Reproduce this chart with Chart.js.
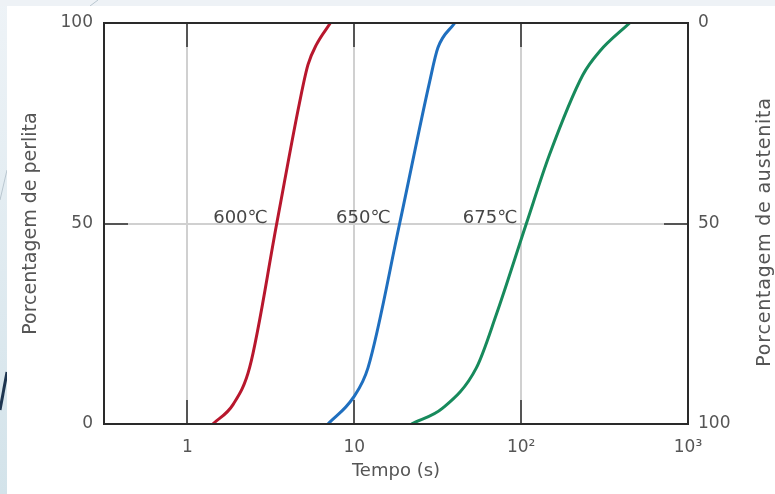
<!DOCTYPE html>
<html>
<head>
<meta charset="utf-8">
<script src="https://cdn.jsdelivr.net/npm/chart.js@4/dist/chart.umd.min.js"></script>
<style>
  html, body { margin: 0; padding: 0; background: #ffffff; }
  canvas { display: block; }
</style>
</head>
<body>
<canvas id="c" width="775" height="494"></canvas>
<script>
// ---- data ----
const temperatureLabels = ['600\u2103', '650\u2103', '675\u2103'];

const time600 = [1.42, 1.88, 2.36, 3.43, 4.69, 5.28, 5.93, 7.19];
const pct600  = [0, 4.9, 14.1, 50, 80, 89.6, 94.6, 100];

const time650 = [6.96, 9.83, 12.08, 18.7, 28.3, 31.7, 40.0];
const pct650  = [0, 6.5, 14.0, 50, 85.4, 93.8, 100];

const time675 = [22.0, 34.0, 53.9, 71.0, 107.5, 148, 234.6, 295, 447];
const pct675  = [0, 4.0, 14.0, 27.3, 50, 67.2, 87.1, 92.9, 100];

const xTickValues = [1, 10, 100, 1000];
const xTickLabels = ['1', '10', '10\u00B2', '10\u00B3'];
const yTickValues = [0, 50, 100];

const colors = ['#b8172d', '#1f6fbf', '#178a5c'];

// ---- build datasets ----
function pts(ts, ps) { return ts.map((t, i) => ({ x: t, y: ps[i] })); }
const series = [pts(time600, pct600), pts(time650, pct650), pts(time675, pct675)];

const FONT = "'DejaVu Sans', sans-serif";

const backgroundPlugin = {
  id: 'slideBg',
  beforeDraw(chart) {
    const ctx = chart.ctx;
    ctx.save();
    const g = ctx.createLinearGradient(0, 0, 0, 494);
    g.addColorStop(0, '#eef3f7');
    g.addColorStop(1, '#d3e3ea');
    ctx.fillStyle = g;
    ctx.fillRect(0, 0, 775, 494);
    ctx.fillStyle = '#eef2f6';
    ctx.fillRect(0, 0, 775, 6);
    // decorative slide lines
    ctx.strokeStyle = '#b9c6cf';
    ctx.lineWidth = 1;
    ctx.beginPath(); ctx.moveTo(98, 0); ctx.lineTo(90, 6); ctx.stroke();
    ctx.beginPath(); ctx.moveTo(7, 170); ctx.lineTo(0, 200); ctx.stroke();
    ctx.strokeStyle = '#1d3550';
    ctx.lineWidth = 3;
    ctx.beginPath(); ctx.moveTo(7, 372); ctx.lineTo(0, 410); ctx.stroke();
    ctx.fillStyle = '#ffffff';
    ctx.fillRect(7, 6, 768, 488);
    ctx.restore();
  }
};

const decorPlugin = {
  id: 'decor',
  afterDatasetsDraw(chart) {
    const ctx = chart.ctx;
    const a = chart.chartArea;
    const xs = chart.scales.x, ys = chart.scales.y;
    ctx.save();
    // inner tick marks
    ctx.strokeStyle = '#555555';
    ctx.lineWidth = 2;
    const L = 24;
    [1, 10, 100].forEach(v => {
      const px = Math.round(xs.getPixelForValue(v));
      ctx.beginPath(); ctx.moveTo(px, a.top); ctx.lineTo(px, a.top + L); ctx.stroke();
      ctx.beginPath(); ctx.moveTo(px, a.bottom); ctx.lineTo(px, a.bottom - L); ctx.stroke();
    });
    const py = Math.round(ys.getPixelForValue(50));
    ctx.beginPath(); ctx.moveTo(a.left, py); ctx.lineTo(a.left + L, py); ctx.stroke();
    ctx.beginPath(); ctx.moveTo(a.right, py); ctx.lineTo(a.right - L, py); ctx.stroke();
    // frame
    ctx.strokeStyle = '#2a2a2a';
    ctx.lineWidth = 2;
    ctx.strokeRect(a.left, a.top, a.right - a.left, a.bottom - a.top);
    // temperature labels anchored to each curve's 50 % point
    ctx.fillStyle = '#474747';
    ctx.font = '18px ' + FONT;
    ctx.textAlign = 'right';
    ctx.textBaseline = 'alphabetic';
    series.forEach((s, i) => {
      const p = s.find(q => q.y === 50);
      ctx.fillText(temperatureLabels[i], xs.getPixelForValue(p.x) - 9, ys.getPixelForValue(50) - 1);
    });
    // right axis title (reads bottom-to-top)
    ctx.fillStyle = '#555555';
    ctx.font = '19px ' + FONT;
    ctx.letterSpacing = '0.8px';
    ctx.textAlign = 'center';
    ctx.textBaseline = 'middle';
    ctx.translate(765, 232);
    ctx.rotate(-Math.PI / 2);
    ctx.fillText('Porcentagem de austenita', 0, 0);
    ctx.restore();
  }
};

new Chart(document.getElementById('c'), {
  type: 'line',
  data: {
    datasets: series.map((s, i) => ({
      label: temperatureLabels[i],
      data: s,
      borderColor: colors[i],
      borderWidth: 3,
      pointRadius: 0,
      fill: false,
      cubicInterpolationMode: 'monotone'
    }))
  },
  options: {
    responsive: false,
    animation: false,
    devicePixelRatio: 1,
    layout: { padding: { top: 23, left: 0, right: 0, bottom: 0 } },
    plugins: { legend: { display: false }, tooltip: { enabled: false } },
    scales: {
      x: {
        type: 'logarithmic',
        bounds: 'data',
        min: Math.pow(10, -0.5),
        max: 1000,
        afterBuildTicks: s => { s.ticks = xTickValues.map(v => ({ value: v })); },
        afterFit: s => { s.height = 70; },
        grid: {
          drawTicks: false,
          lineWidth: 2,
          color: c => (c.tick && c.tick.value === 1000) ? 'rgba(0,0,0,0)' : '#d0d0d0'
        },
        border: { display: false },
        ticks: {
          padding: 13,
          color: '#555555',
          font: { family: FONT, size: 17 },
          maxRotation: 0,
          autoSkip: false,
          callback: (v) => { const i = xTickValues.indexOf(v); return i >= 0 ? xTickLabels[i] : ''; }
        },
        title: {
          display: true,
          text: 'Tempo (s)',
          color: '#555555',
          font: { family: FONT, size: 18 },
          padding: { top: 0, bottom: 12 }
        }
      },
      y: {
        type: 'linear',
        position: 'left',
        min: 0, max: 100,
        afterBuildTicks: s => { s.ticks = yTickValues.map(v => ({ value: v })); },
        afterFit: s => { s.width = 104; },
        grid: {
          drawTicks: false,
          lineWidth: 2,
          color: c => (c.tick && c.tick.value === 50) ? '#d0d0d0' : 'rgba(0,0,0,0)'
        },
        border: { display: false },
        ticks: { padding: 11, color: '#555555', font: { family: FONT, size: 17 } },
        title: {
          display: true,
          text: 'Porcentagem de perlita',
          color: '#555555',
          font: { family: FONT, size: 19 },
          padding: { top: 20, bottom: 0 }
        }
      },
      y2: {
        type: 'linear',
        position: 'right',
        reverse: true,
        min: 0, max: 100,
        afterBuildTicks: s => { s.ticks = yTickValues.map(v => ({ value: v })); },
        afterFit: s => { s.width = 87; },
        grid: { display: false, drawTicks: false },
        border: { display: false },
        ticks: { padding: 10, color: '#555555', font: { family: FONT, size: 17 } }
      }
    }
  },
  plugins: [backgroundPlugin, decorPlugin]
});
</script>
</body>
</html>
